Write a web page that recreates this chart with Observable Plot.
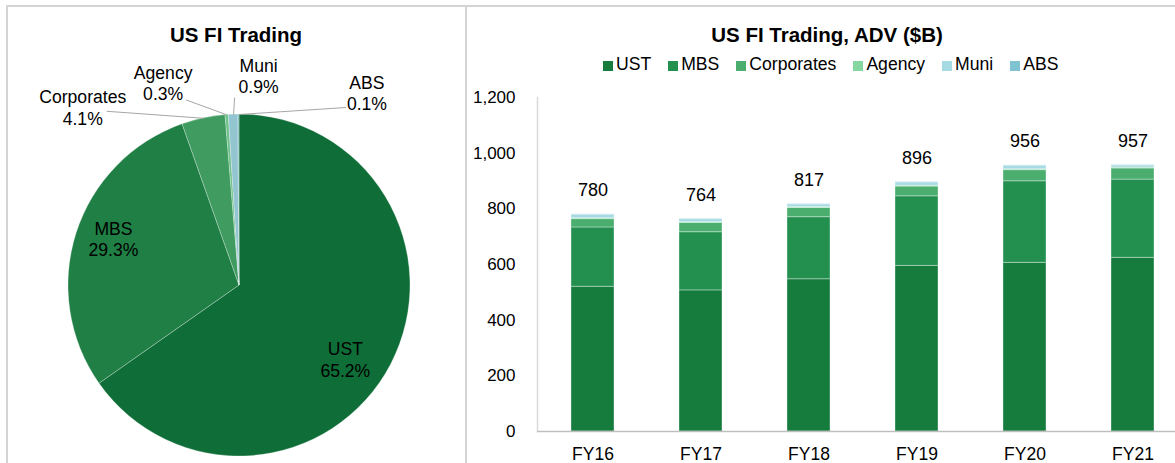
<!DOCTYPE html>
<html>
<head>
<meta charset="utf-8">
<script src="https://cdn.jsdelivr.net/npm/d3@7"></script>
<script src="https://cdn.jsdelivr.net/npm/@observablehq/plot@0.6"></script>
<style>
  html, body { margin: 0; padding: 0; background: #fff; }
  body { width: 1175px; height: 463px; position: relative; overflow: hidden; font-family: "Liberation Sans", Arial, sans-serif; color: #000; }
  .abs { position: absolute; }
  .title { font-weight: bold; font-size: 20.5px; line-height: 20px; white-space: nowrap; text-align: center; }
  .legend { display: flex; align-items: baseline; font-size: 17.6px; line-height: 17px; white-space: nowrap; }
  .legend .item { display: flex; align-items: center; margin-right: 17px; }
  .legend .item:last-child { margin-right: 0; }
  .legend .sw { width: 10px; height: 10px; margin-right: 3px; margin-top: 3px; }
  .border { background: #d4d4d4; }
  svg { max-width: none !important; }
</style>
</head>
<body>
<script>
// ---------- data ----------
const categories = ["UST", "MBS", "Corporates", "Agency", "Muni", "ABS"];
const piePct = [65.2, 29.3, 4.1, 0.3, 0.9, 0.1];

const years = ["FY16", "FY17", "FY18", "FY19", "FY20", "FY21"];
const ust        = [520, 507, 547, 595, 606, 624];
const mbs        = [213, 209, 223, 250, 293, 281];
const corporates = [30, 33, 33, 35, 40, 40];
const agency     = [3, 3, 3, 3, 3, 3];
const muni       = [12, 11, 10, 12, 13, 8];
const abs        = [2, 1, 1, 1, 1, 1];
const totals     = [780, 764, 817, 896, 956, 957];
const yTicks     = [0, 200, 400, 600, 800, 1000, 1200];

// ---------- styles ----------
const pieColors = ["#0f6e37", "#1f7f45", "#409b61", "#6dc189", "#93c5d1", "#72b4c4"];
const barColors = ["#157c3e", "#24904f", "#4bae6f", "#86d6a0", "#a7dbe4", "#7fc3d1"];
const FONT = "Liberation Sans, Arial, sans-serif";

// ---------- frame borders ----------
function div(cls, css, html) {
  const d = document.createElement("div");
  d.className = cls;
  Object.assign(d.style, css);
  if (html != null) d.innerHTML = html;
  document.body.appendChild(d);
  return d;
}
div("abs border", {left: "6px", top: "5px", width: "1169px", height: "2px"});
div("abs border", {left: "6px", top: "5px", width: "2px", height: "458px"});
div("abs border", {left: "465px", top: "5px", width: "2px", height: "458px"});

// ---------- pie ----------
const series = [ust, mbs, corporates, agency, muni, abs];
const pieData = categories.map((c, i) => ({cat: c, pct: piePct[i]}));
const arcs = d3.pie().sort(null).value(d => d.pct)(pieData);
const R = 171; // px per radius unit (layout)
// label placement (layout): radial factor and pixel nudges
const labelLayout = {
  UST:        {k: 0.77, tx: -11, ty: 13},
  MBS:        {k: 0.78, tx: 1,   ty: -6},
  Corporates: {k: 1, tx: -121, ty: -11, lx: -97, ly: -7},
  Agency:     {k: 1, tx: -64,  ty: -32, lx: -41, ly: -15},
  Muni:       {k: 1, tx: 25,   ty: -39, lx: 1,   ly: -17},
  ABS:        {k: 1, tx: 128,  ty: -22, lx: 107, ly: -7}
};
const pieLabels = arcs.map(a => {
  const mid = (a.startAngle + a.endAngle) / 2;
  const L = labelLayout[a.data.cat];
  const ex = Math.sin(mid) * L.k, ey = Math.cos(mid) * L.k;
  return {
    text: `${a.data.cat}\n${a.data.pct.toFixed(1)}%`,
    x: ex + L.tx / R, y: ey - L.ty / R,
    ex, ey,
    lx: L.lx == null ? null : ex + L.lx / R,
    ly: L.ly == null ? null : ey - L.ly / R
  };
});
const leaders = pieLabels.filter(d => d.lx != null);

const pie = Plot.plot({
  width: 467, height: 463,
  margin: 0,
  style: {fontFamily: FONT, background: "transparent", overflow: "visible", maxWidth: "none"},
  x: {domain: [-1, 1], range: [239 - R, 239 + R], axis: null},
  y: {domain: [-1, 1], range: [285 + R, 285 - R], axis: null},
  marks: [
    (index, scales) => {
      const cx = scales.x(0), cy = scales.y(0), r = scales.x(1) - scales.x(0);
      const g = d3.create("svg:g").attr("transform", `translate(${cx},${cy})`);
      const arc = d3.arc().innerRadius(0).outerRadius(r);
      g.selectAll("path").data(arcs).join("path")
        .attr("d", arc)
        .attr("fill", (d, i) => pieColors[i])
        .attr("stroke", "rgba(255,255,255,0.35)")
        .attr("stroke-width", 0.8);
      return g.node();
    },
    Plot.link(leaders, {x1: "ex", y1: "ey", x2: "lx", y2: "ly", stroke: "#a6a6a6", strokeWidth: 1}),
    Plot.text(pieLabels, {x: "x", y: "y", text: "text", fontSize: 17.6, fill: "#000", lineHeight: 1.2, lineAnchor: "middle"})
  ]
});
pie.style.position = "absolute";
pie.style.left = "0px";
pie.style.top = "0px";
document.body.appendChild(pie);

div("abs title", {left: "136px", width: "200px", top: "25px"}, "US FI Trading");

// ---------- stacked bars ----------
const rows = [];
years.forEach((y, j) => {
  categories.forEach((c, i) => rows.push({year: y, cat: c, value: series[i][j]}));
});
const totalRows = years.map((y, j) => ({year: y, total: totals[j]}));

const wrap = div("abs", {left: "467px", top: "0px", width: "708px", height: "463px", overflow: "hidden"});
const bars = Plot.plot({
  width: 742, height: 463,
  marginLeft: 69, marginRight: 22.6, marginTop: 97, marginBottom: 32,
  style: {fontFamily: FONT, fontSize: "17px", color: "#000", background: "transparent", overflow: "visible", maxWidth: "none"},
  x: {domain: years, paddingInner: 0.6, paddingOuter: 0.3, label: null},
  y: {domain: [0, 1200], label: null},
  color: {domain: categories, range: barColors},
  marks: [
    Plot.frame({anchor: "left", stroke: "#d9d9d9", strokeWidth: 1.5}),
    Plot.barY(rows, {x: "year", y: "value", fill: "cat", stroke: "rgba(255,255,255,0.35)", strokeWidth: 1}),
    Plot.ruleY([0], {stroke: "#bfbfbf", strokeWidth: 1.5}),
    Plot.axisY(yTicks, {tickSize: 0, tickPadding: 22, tickFormat: d3.format(","), fontSize: 17, fill: "#000", label: null}),
    Plot.axisX({tickSize: 0, tickPadding: 16, fontSize: 17.5, fill: "#000", label: null}),
    Plot.text(totalRows, {x: "year", y: "total", text: d => String(d.total), lineAnchor: "bottom", dy: -18, fontSize: 18, fill: "#000"})
  ]
});
bars.style.position = "absolute";
bars.style.left = "1px";
bars.style.top = "0px";
wrap.appendChild(bars);

div("abs title", {left: "677px", width: "300px", top: "25px"}, "US FI Trading, ADV ($B)");

// legend
const leg = div("abs legend", {left: "603px", top: "56px"});
categories.forEach((c, i) => {
  const it = document.createElement("div");
  it.className = "item";
  it.innerHTML = `<span class="sw" style="background:${barColors[i]}"></span><span>${c}</span>`;
  leg.appendChild(it);
});
</script>
</body>
</html>
